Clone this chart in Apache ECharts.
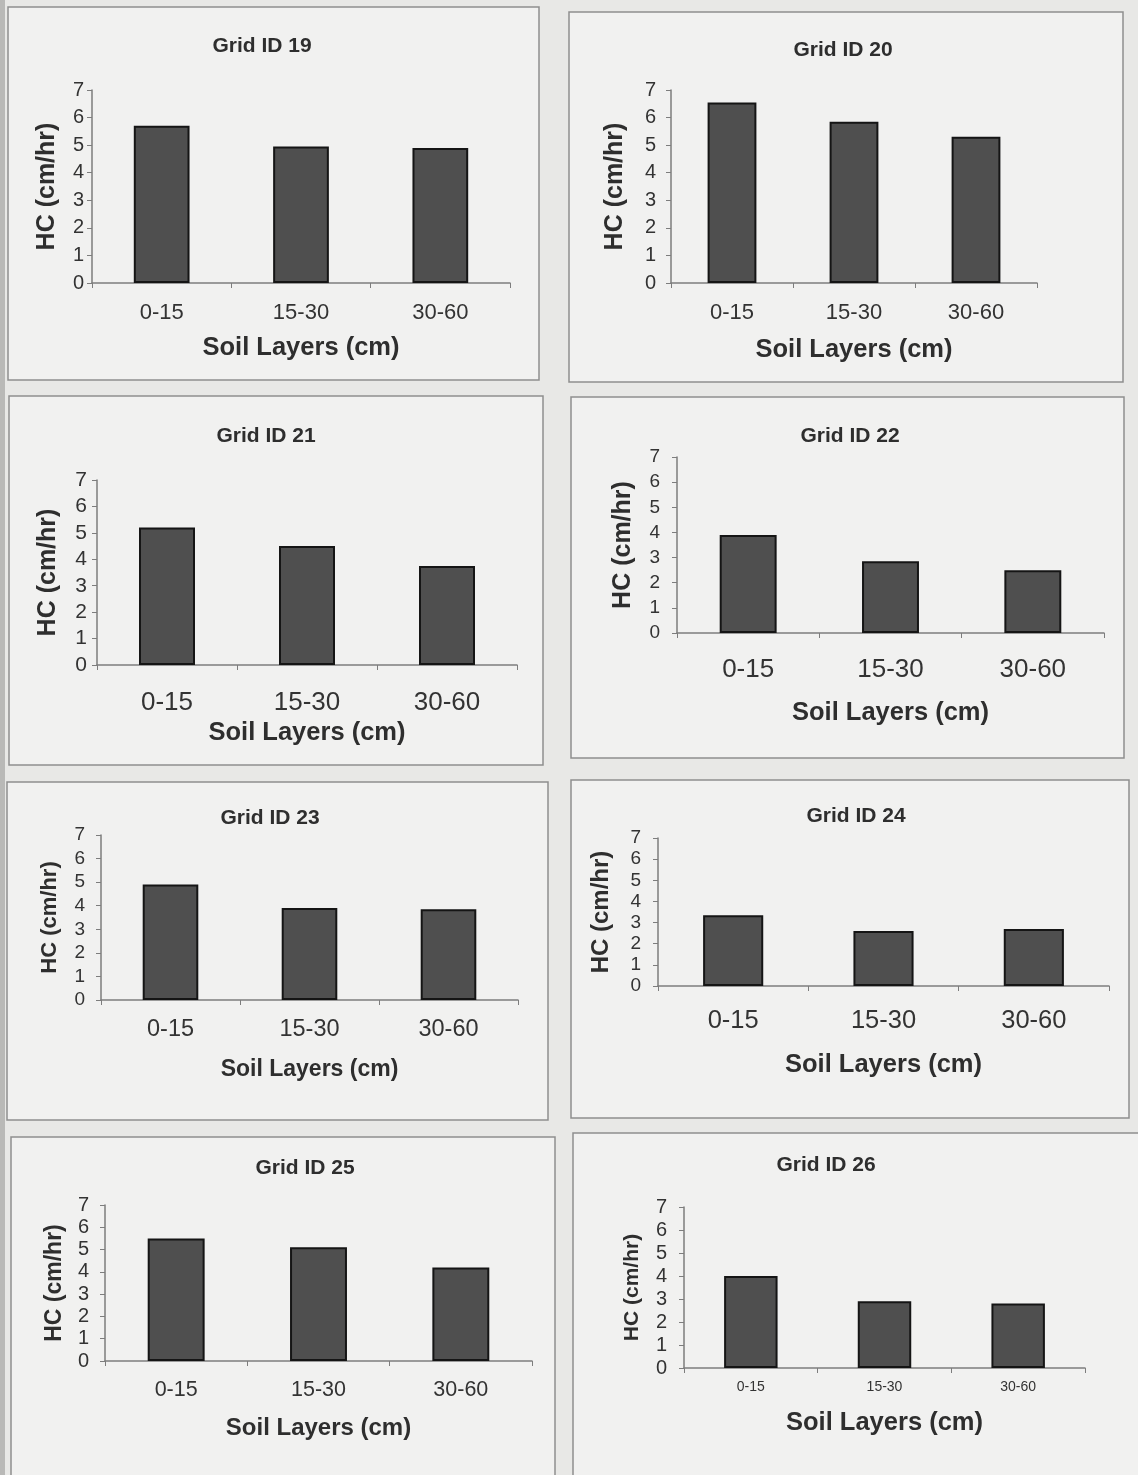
<!DOCTYPE html>
<html><head><meta charset="utf-8">
<script src="https://cdn.jsdelivr.net/npm/echarts@6/dist/echarts.min.js"></script>
<style>html,body{margin:0;padding:0;background:#e8e8e6;} #c{width:1138px;height:1475px;}</style>
</head><body><div id="c"></div>
<script>
// ---- data ----
const categories = ['0-15', '15-30', '30-60'];
const gridIds = ['19', '20', '21', '22', '23', '24', '25', '26'];
const hc19 = [5.7, 4.95, 4.9];
const hc20 = [6.55, 5.85, 5.3];
const hc21 = [5.2, 4.5, 3.75];
const hc22 = [3.9, 2.85, 2.5];
const hc23 = [4.9, 3.9, 3.85];
const hc24 = [3.35, 2.6, 2.7];
const hc25 = [5.5, 5.1, 4.2];
const hc26 = [4.0, 2.9, 2.8];
const yMin = 0, yMax = 7, yStep = 1;
const xName = 'Soil Layers (cm)';
const yName = 'HC (cm/hr)';
const values = [hc19, hc20, hc21, hc22, hc23, hc24, hc25, hc26];

// ---- layout (styling only) ----
const boxes = [[8,7,531,373],[569,12,554,370],[9,396,534,369],[571,397,553,361],
               [7,782,541,338],[571,780,558,338],[11,1137,544,345],[573,1133,570,350]];
const grids = [[92,90,418,193],[671,90,366,193],[97,480,420,185],[677,457,427,176],
               [101,835,417,165],[658,838,451,148],[105,1205,427,156],[684,1207,401,161]];
const titlePos = [[257,43],[838,47],[261,433],[845,433],[265,815],[851,813],[300,1165],[821,1162]];
const xLabelSize = [22,22,26,26,23.5,25.5,21.5,14];
const xLabelMargin = [19,19,25,24,18,22,18,12];
const xNameSize = [25.5,25.5,25.5,25.5,23,25.5,24,25.5];
const xNameGap = [52,54,55,67,58,66,55,42];
const yLabelSize = [20,20,21,19,19,19,20,20];
const yLabelMargin = [8,15,10,17,16,17,16,17];
const yNameSize = [25,25,25,25,22,24,23,21];
const yNameGap = [32,43,36,41,40,45,39,41];

const FONT = "'Liberation Sans', Arial, sans-serif";
const chart = echarts.init(document.getElementById('c'), null, {renderer: 'canvas'});

const option = {
  backgroundColor: '#e8e8e6',
  animation: false,
  graphic: [
    {type: 'rect', shape: {x: 0, y: 0, width: 5, height: 1475}, style: {fill: '#b9b9b7'}, z: -20}
  ].concat(boxes.map(b => ({
    type: 'rect', z: -10,
    shape: {x: b[0], y: b[1], width: b[2], height: b[3]},
    style: {fill: '#f1f1f0', stroke: '#8e8e8e', lineWidth: 1.5}
  }))),
  title: gridIds.map((id, i) => ({
    text: 'Grid ID ' + id,
    left: titlePos[i][0], top: titlePos[i][1] - 12, textAlign: 'center',
    textStyle: {fontFamily: FONT, fontSize: 21, fontWeight: 'bold', color: '#2e2e2e'}
  })),
  grid: grids.map(g => ({left: g[0], top: g[1], width: g[2], height: g[3], containLabel: false})),
  xAxis: values.map((v, i) => ({
    type: 'category', gridIndex: i, data: categories,
    name: xName, nameLocation: 'middle', nameGap: xNameGap[i],
    nameTextStyle: {fontFamily: FONT, fontSize: xNameSize[i], fontWeight: 'bold', color: '#2e2e2e'},
    axisLine: {lineStyle: {color: '#7d7d7d', width: 1.5}},
    axisTick: {show: true, length: 5, lineStyle: {color: '#7d7d7d'}},
    axisLabel: {fontFamily: FONT, fontSize: xLabelSize[i], color: '#333', margin: xLabelMargin[i]}
  })),
  yAxis: values.map((v, i) => ({
    type: 'value', gridIndex: i, min: yMin, max: yMax, interval: yStep,
    name: yName, nameLocation: 'middle', nameGap: yNameGap[i], nameRotate: 90,
    nameTextStyle: {fontFamily: FONT, fontSize: yNameSize[i], fontWeight: 'bold', color: '#2e2e2e'},
    axisLine: {show: true, lineStyle: {color: '#7d7d7d', width: 1.5}},
    axisTick: {show: true, length: 5, lineStyle: {color: '#7d7d7d'}},
    splitLine: {show: false},
    axisLabel: {fontFamily: FONT, fontSize: yLabelSize[i], color: '#333', margin: yLabelMargin[i]}
  })),
  series: values.map((v, i) => ({
    type: 'bar', xAxisIndex: i, yAxisIndex: i, data: v, barWidth: '40%',
    itemStyle: {color: '#4f4f4f', borderColor: '#151515', borderWidth: 2}
  }))
};
chart.setOption(option);
</script>
</body></html>
